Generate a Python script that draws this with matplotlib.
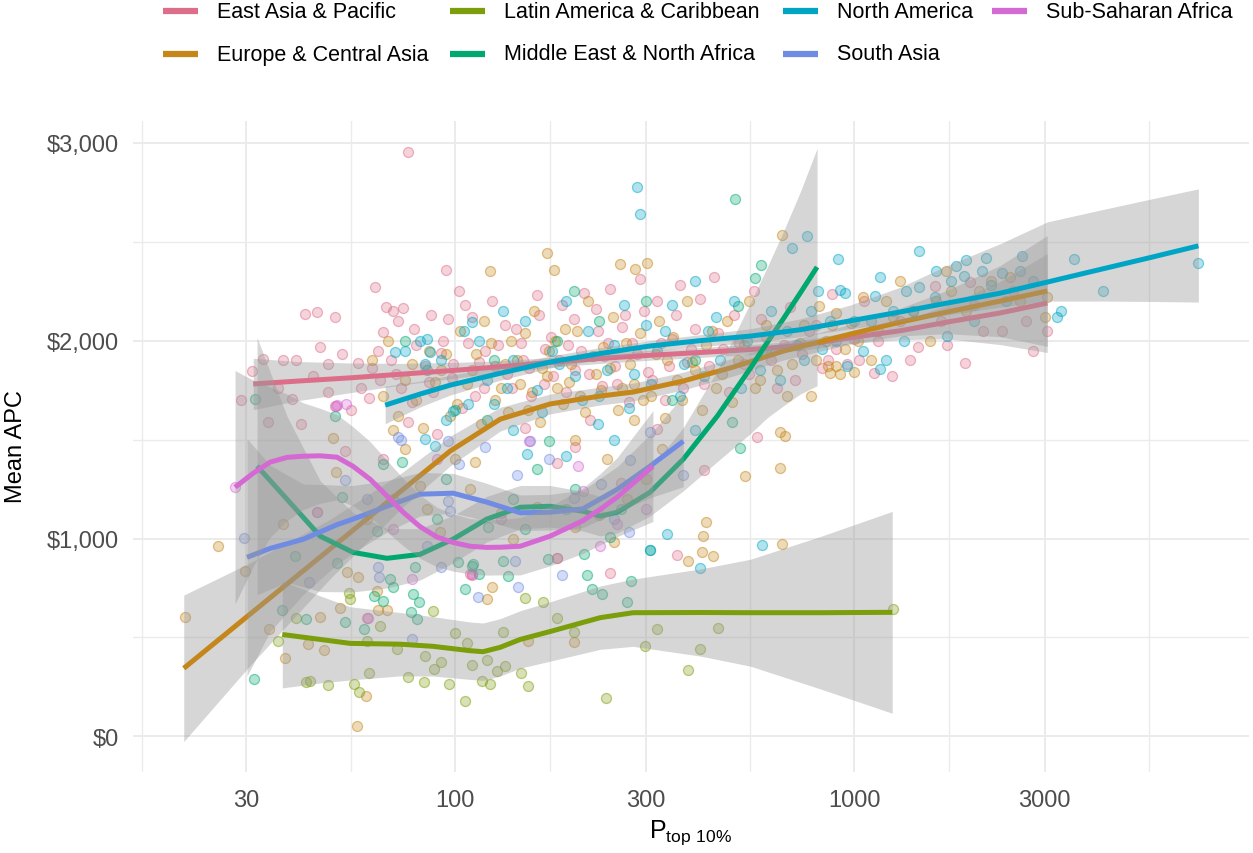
import numpy as np
import matplotlib
matplotlib.use('Agg')
import matplotlib.pyplot as plt
from matplotlib.lines import Line2D
from matplotlib.ticker import FixedLocator, NullFormatter, FuncFormatter

plt.rcParams['font.family'] = ['Liberation Sans', 'DejaVu Sans']

regions = ['East Asia & Pacific', 'Europe & Central Asia', 'Latin America & Caribbean',
           'Middle East & North Africa', 'North America', 'South Asia', 'Sub-Saharan Africa']
colors = ['#DD6E8A', '#C5861A', '#7B9E0A', '#00A870', '#00A5C6', '#6F8BE3', '#D569D3']

#Scatter points (P top 10%, mean APC)
eap_pts = [(31,1846),(33,1907),(37,1902),(40,1900),(42,2135),(45,2145),(50,2120),(46,1968),(48,1882),
           (52,1930),(57,1887),(62,1862),(63,2271),(66,2044),(67,2170),(70,2150),(74,2165),(72,2100),
           (76,2954),(95,2357),(102,2251),(87,2130),(96,2110),(110,2120),(39,1705),(41,1578),(34,1588),
           (45,1133),(60,597),(66,1401),(76,1588),(90,1528),(109,820),(50,1669),(53,1442),
           (29,1700),(36,1760),(44,1820),(48,1740),(55,1650),(58,1760),(61,1710),(65,1800),(69,1900),
           (73,1760),(78,1690),(80,1980),(84,1870),(88,1740),(92,1940),(98,1810),(104,1660),(108,1990),
           (115,1890),(118,1760),(124,2200),(128,1980),(135,1830),(142,2060),(148,1900),(155,1720),
           (162,2130),(168,1960),(176,1820),(185,2180),(192,1980),(200,1850),(210,2240),(218,1600),
           (228,2050),(236,1920),(245,2260),(255,1780),(266,2130),(278,1990),(290,2310),(305,1840),
           (320,2200),(335,1700),(350,2010),(365,2280),(382,1890),(400,2060),(420,1780),(445,2320),
           (470,1960),(500,2130),(530,1880),(560,2250),(600,2020),(640,1760),(690,2170),(740,1930),
           (800,2080),(860,1900),(880,2236),(1120,1836),(1240,1821),(1445,1968),(1590,2276),(1711,1978),
           (1890,1887),(1950,2296),(1000,2010),(1300,2100),(2100,2050),(2500,2250),(2800,1950),(3045,2049),
           (960,1880),(1060,2200),(360,916),(245,825),(110,815),(570,1512),(420,1346),(320,1553),
           (200,1460),(150,1560),(260,1280),(180,1380),
           (64,1950),(71,1830),(79,2060),(86,1790),(93,2000),(99,1880),(106,2180),(112,1720),(119,1950),
           (126,1870),(133,2080),(139,1760),(146,1990),(153,1860),(160,2230),(167,1780),(174,2020),
           (182,1900),(190,1740),(198,2110),(207,1950),(216,1830),(225,2160),(233,1770),(242,1990),
           (252,1870),(262,2070),(273,1690),(285,1930),(298,2150),(312,1800),(328,1990),(344,1870),
           (358,2130),(372,1760),(390,1960),(410,2210),(432,1870),(455,2040),(485,1740),(515,1990),
           (545,1830),(585,2110),(620,1900),(665,1980),(710,1800),(770,2050),(830,1860),(900,1960),
           (1030,1900),(1150,2000),(1380,1900),(1650,2100),(2000,2180),(2350,2050),(2700,2100)]
eca_pts = [(21,602),(25.4,961),(29.8,834),(34.1,541),(37.5,394),(37,1072),(42.9,465),(46,602),(47,435),
           (49.5,1507),(50.2,1335),(53.6,830),(56.9,51),(59.8,202),(51.5,647),(64.1,637),(67.5,637),
           (63.7,733),(57.2,804),(109,1249),(91.7,1032),(120,693),(124,753),(81.7,1265),(112,1386),
           (425,1082),(418,1011),(416,931),(442,910),(384,885),(534,1315),(651,1356),(659,971),(651,1538),
           (672,1517),(198,475),(152,480),(140,1000),(160,1160),(180,900),(200,1060),(230,1120),(250,980),
           (270,1200),(300,1300),(130,1130),(100,1400),(85,1150),(75,1450),(60,1100),(70,1550),(200,1500),
           (240,1400),(330,1450),(280,1600),(170,2443),(122,2352),(259,2388),(282,2362),(302,2393),
           (660,2534),(177,2357),(815,2175),(869,1836),(62,1900),(68,2000),(75,1800),(80,1700),(86,1950),
           (92,1850),(97,1620),(103,2050),(107,1780),(113,1930),(118,2100),(126,1700),(133,1880),(138,2000),
           (145,1780),(152,1650),(158,2150),(165,1860),(172,1950),(180,1760),(188,2060),(195,1880),
           (205,1720),(215,2200),(225,1830),(235,1970),(248,2120),(262,1760),(275,1880),(290,2040),
           (310,1720),(325,2100),(340,1900),(360,1800),(380,2200),(400,1850),(425,1980),(450,1760),
           (480,2100),(510,1900),(545,2200),(580,1800),(620,1950),(700,1880),(750,2080),(780,1720),
           (850,2000),(900,2140),(950,1960),(1050,2220),(1150,2050),(1300,2300),(1400,2150),(1550,2000),
           (1750,2250),(1900,2150),(2200,2300),(2600,2200),(3000,2120),(3040,2220),(980,2090),(1100,1900),
           (1200,2200),(920,1830),(860,1870),(1700,2350),(1000,1840),(900,1870),
           (66,1720),(72,1620),(78,1880),(83,1560),(89,1790),(95,1930),(101,1680),(110,1850),(116,1580),
           (123,1990),(130,1760),(136,1640),(143,1900),(150,2040),(156,1740),(163,1590),(170,1820),
           (178,2000),(186,1680),(193,1790),(202,2050),(212,1640),(222,1920),(232,1750),(244,1860),
           (256,1650),(268,1990),(280,1780),(295,1700),(318,1930),(335,1610),(352,2020),(370,1700),
           (392,1890),(415,1650),(440,2050),(465,1830),(495,1690),(530,1980),(565,1760),(600,2080),
           (640,1850),(680,1720),(730,1990),(800,1900),(880,2080),(1020,2000),(1250,2120),(1600,2200),
           (2050,2250),(2450,2320)]
lac_pts = [(42.3,273),(43.3,278),(47.9,258),(55.7,263),(57.4,222),(60.9,319),(76.2,298),(83.6,273),
           (96.6,263),(106,177),(117,278),(122,263),(127,329),(133,354),(146,319),(152,253),(84,405),
           (88.6,339),(92,374),(107,470),(110,359),(120,384),(54.6,693),(54.1,723),(88.1,632),(71.6,440),
           (132,526),(198,526),(239,192),(299,455),(320,541),(384,334),(411,440),(456,546),(1250,642),
           (166,678),(40,600),(65,560),(100,520),(150,700),(180,600),(36,480),(60,480)]
mena_pts = [(31.6,1705),(31.4,288),(50,1619),(52,1209),(39.7,910),(36.9,637),(42.4,592),(50.6,875),
            (53,577),(59,541),(63.7,1037),(66,1376),(68.8,794),(70,753),(73.6,1386),(78.5,718),(79.5,855),
            (80.2,592),(77.4,627),(81,678),(101.7,880),(110,860),(106,744),(121,1057),(115,820),(62.6,708),
            (66,683),(111,870),(132,885),(136,809),(171,895),(210,921),(214,814),(220,744),(233,718),
            (270,678),(276,784),(307,941),(245,1006),(516,1457),(494,1588),(172,1492),(199,2251),
            (584,2382),(564,2317),(511,2175),(502,2716),(90,1100),(140,1200),(160,1350),(200,1250),
            (100,1650),(125,1900),(180,2000),(230,2100),(300,2200),(400,1900),(350,1700),(85,1850),(75,2000),
            (95,1300),(150,1050),(190,1150),(260,1150),(120,1600),(70,1200)]
na_pts = [(285,2777),(290,2640),(762,2529),(698,2468),(910,2413),(811,2251),(1450,2453),(2630,2428),
          (3560,2413),(7280,2393),(3230,2119),(2140,2418),(1900,2408),(1800,2377),(2090,2352),(2340,2342),
          (1880,2327),(1160,2322),(960,1872),(1200,1902),(1160,1856),(1350,2251),(1450,2271),(1590,2220),
          (1130,2226),(920,2256),(950,2241),(1710,2023),(1330,1998),(340,1022),(587,966),(410,850),
          (308,941),(190,1416),(228,1578),(151,1426),(70.9,1942),(75,1950),(81.7,1998),(85,2010),
          (86.6,1942),(84,1880),(92,1900),(110,2094),(105,2050),(115,2000),(132,2150),(98.9,1644),
          (95,1600),(84,1502),(89,1467),(108,1679),(120,1800),(140,1900),(150,2100),(160,1750),(175,1950),
          (190,2200),(200,1820),(215,2050),(230,1720),(250,1980),(265,2180),(280,1830),(300,2080),
          (320,1950),(350,2180),(375,1880),(400,2300),(430,2050),(460,1900),(500,2200),(540,2000),
          (580,1850),(620,2150),(680,2050),(720,1980),(780,2150),(830,1960),(870,2100),(1000,2100),
          (1050,1950),(1250,2150),(1600,2350),(2000,2100),(2400,2200),(2800,2300),(3300,2150),(4200,2250),
          (140,1550),(250,1500),(400,1550),
          (125,1680),(135,1760),(165,1640),(182,1880),(208,1700),(240,1850),(272,1660),(310,1780),
          (335,2050),(365,1720),(420,1820),(450,2120),(520,1760),(600,1950),(650,1800),(750,1900),
          (900,2000),(1100,2100),(1400,2150),(1750,2300),(2200,2280),(2600,2350)]
sa_pts = [(29.6,1002),(43,779),(53,1295),(64,855),(64.5,804),(72,1512),(73,1500),(78,491),(85,961),
          (92,855),(96,1189),(97,1138),(102,1376),(96,1492),(114,703),(119,1462),(141,885),(143,1320),
          (185,814),(144,754),(172,1401),(199,1204),(232,1275),(273,1032),(275,1396),(308,1538),
          (373,1320),(154,1492),(60,1200),(250,1100)]
ssa_pts = [(28.1,1259),(45,1133),(60.4,597),(78,794),(50.2,1669),(50.5,1674),(53.3,1679),(110,820),
           (203,1366),(209,1239),(255,1072),(231,961),(153,1492),(90,1400),(130,1100),(70,1050),
           (180,900),(300,1150)]

#Smoothed fits: x, fit, lower, upper
eap_x = [31.2, 39.9, 54.6, 72.8, 100, 129.7, 173, 231, 313, 411, 549, 732, 977, 1304, 1711, 2322, 3045]
eap_y = [1781, 1795, 1812, 1830, 1850, 1868, 1890, 1910, 1927, 1940, 1955, 1975, 2015, 2050, 2094, 2140, 2190]
eap_se = [130, 100, 75, 55, 40, 30, 25, 25, 25, 25, 25, 25, 30, 45, 85, 160, 250]

eca_x = [20.9, 30.6, 48.6, 72.8, 97.2, 129.7, 173, 231, 279, 373, 497, 664, 977, 1304, 1711, 2322, 3045]
eca_y = [344, 617, 947, 1236, 1442, 1603, 1680, 1720, 1740, 1796, 1866, 1947, 2033, 2094, 2145, 2200, 2251]
eca_se = [370, 260, 150, 90, 75, 60, 50, 45, 45, 45, 45, 45, 50, 70, 110, 180, 280]

lac_x = [36.9, 45.9, 54.6, 72.8, 88.1, 109, 117.5, 129.7, 145.6, 173, 231, 279, 411, 549, 822, 1245]
lac_y = [515, 490, 470, 466, 455, 433, 428, 450, 490, 530, 600, 625, 626, 625, 625, 627]
lac_se = [270, 220, 185, 160, 150, 145, 145, 145, 145, 150, 160, 170, 220, 270, 385, 510]

mena_x = [31.9, 37.9, 45.9, 55.5, 67.5, 81.7, 98.9, 120, 145.6, 173, 209, 231, 255, 308, 373, 454, 549,
          605, 664, 732, 807]
mena_y = [1366, 1199, 1012, 930, 900, 920, 997, 1098, 1158, 1163, 1138, 1113, 1133, 1234, 1401, 1619, 1860,
          1990, 2110, 2240, 2372]
mena_se = [650, 420, 280, 200, 150, 130, 120, 115, 110, 105, 100, 100, 105, 120, 160, 230, 330, 380, 440, 510, 600]

na_x = [66.8, 81.7, 97.2, 129.7, 173, 231, 308, 411, 549, 732, 977, 1304, 1711, 2322, 3045, 4138, 5520, 7281]
na_y = [1674, 1730, 1775, 1835, 1892, 1935, 1973, 2000, 2023, 2055, 2100, 2145, 2190, 2240, 2296, 2360, 2420, 2479]
na_lo = [1580, 1665, 1725, 1800, 1862, 1905, 1945, 1970, 1990, 2020, 2060, 2095, 2130, 2170, 2200, 2200, 2198, 2195]
na_hi = [1770, 1795, 1825, 1870, 1922, 1965, 2000, 2030, 2060, 2110, 2180, 2270, 2380, 2490, 2600, 2660, 2715, 2767]

sa_x = [30.1, 34.4, 41.6, 50.6, 55.5, 67.5, 81.7, 98.9, 120, 145.6, 173, 209, 255, 308, 373]
sa_y = [905, 950, 996, 1070, 1098, 1163, 1224, 1229, 1184, 1130, 1133, 1150, 1249, 1366, 1492]
sa_se = [600, 420, 280, 200, 170, 130, 110, 100, 95, 90, 90, 95, 115, 160, 230]

ssa_x = [28.1, 31.2, 34.4, 37.9, 41.6, 45.9, 50.6, 55.5, 61.2, 67.5, 74.1, 81.7, 90.1, 98.9, 109, 120,
         129.7, 145.6, 173, 209, 231, 255, 313]
ssa_y = [1259, 1330, 1386, 1410, 1416, 1418, 1411, 1365, 1300, 1215, 1133, 1060, 1007, 980, 961, 955,
         956, 961, 1012, 1090, 1148, 1210, 1366]
ssa_se = [590, 470, 380, 320, 270, 240, 215, 200, 190, 180, 170, 160, 150, 145, 140, 140, 140, 145, 150,
          165, 180, 200, 280]

W, H = 1253, 854
fig = plt.figure(figsize=(W/100, H/100), dpi=100)
ax = fig.add_axes([133/W, 1-773/H, (1249-133)/W, (773-122)/H])
ax.set_xscale('log')
ax.set_xlim(10**1.193, 10**3.989)
ax.set_ylim(-180, 3110)

#Points
all_pts = [eap_pts, eca_pts, lac_pts, mena_pts, na_pts, sa_pts, ssa_pts]
for pts, c in zip(all_pts, colors):
    p = np.array(pts, dtype=float)
    rgb = matplotlib.colors.to_rgb(c)
    ax.scatter(p[:, 0], p[:, 1], s=52, facecolors=[rgb + (0.3,)], edgecolors=[rgb + (0.5,)],
               linewidths=0.9, zorder=2)

#Smooths: ribbon then line, group by group
fits = [(eap_x, eap_y, np.array(eap_y) - eap_se, np.array(eap_y) + eap_se),
        (eca_x, eca_y, np.array(eca_y) - eca_se, np.array(eca_y) + eca_se),
        (lac_x, lac_y, np.array(lac_y) - lac_se, np.array(lac_y) + lac_se),
        (mena_x, mena_y, np.array(mena_y) - mena_se, np.array(mena_y) + mena_se),
        (na_x, na_y, na_lo, na_hi),
        (sa_x, sa_y, np.array(sa_y) - sa_se, np.array(sa_y) + sa_se),
        (ssa_x, ssa_y, np.array(ssa_y) - ssa_se, np.array(ssa_y) + ssa_se)]
z = 3
for (fx, fy, lo, hi), c in zip(fits, colors):
    ax.fill_between(fx, lo, hi, color='#999999', alpha=0.4, lw=0, zorder=z)
    ax.plot(fx, fy, color=c, lw=3.6, solid_capstyle='butt', zorder=z + 1)
    z += 2

#Axes styling
ax.xaxis.set_major_locator(FixedLocator([30, 100, 300, 1000, 3000]))
ax.xaxis.set_minor_locator(FixedLocator([16.4, 54.8, 173.2, 547.7, 1732, 5477]))
ax.xaxis.set_major_formatter(FuncFormatter(lambda v, p: f'{v:g}'))
ax.xaxis.set_minor_formatter(NullFormatter())
ax.yaxis.set_major_locator(FixedLocator([0, 1000, 2000, 3000]))
ax.yaxis.set_minor_locator(FixedLocator([500, 1500, 2500]))
ax.yaxis.set_major_formatter(FuncFormatter(lambda v, p: f'${v:,.0f}'))
ax.grid(which='major', color='#EBEBEB', lw=1.4, zorder=0)
ax.grid(which='minor', color='#EBEBEB', lw=1.0, zorder=0)
ax.set_axisbelow(True)
for s in ax.spines.values():
    s.set_visible(False)
ax.tick_params(which='both', length=0)
ax.tick_params(axis='y', labelsize=17, labelcolor='#4D4D4D', pad=10)
ax.tick_params(axis='x', labelsize=17, labelcolor='#4D4D4D', pad=12)

fig.text(691/W, 1-833/H, r'$\mathregular{P_{top\ 10\%}}$', ha='center', va='center', fontsize=18)
fig.text(16/W, 1-447/H, 'Mean APC', rotation=90, ha='center', va='center', fontsize=17)

#Legend
key_x = [163, 450, 783, 992]
leg_rows = [12, 55]
order = [(0, 0), (2, 0), (4, 0), (6, 0), (1, 1), (3, 1), (5, 1)]
cols = [0, 1, 2, 3, 0, 1, 2]
for (i, r), col in zip(order, cols):
    y = 1 - leg_rows[r]/H
    x0 = key_x[col]
    fig.add_artist(Line2D([x0/W, (x0+35)/W], [y, y], transform=fig.transFigure,
                          color=colors[i], lw=4.5, solid_capstyle='butt'))
    fig.text((x0+54)/W, y, regions[i], ha='left', va='center', fontsize=15.5)

plt.savefig('out.png', dpi=100)
